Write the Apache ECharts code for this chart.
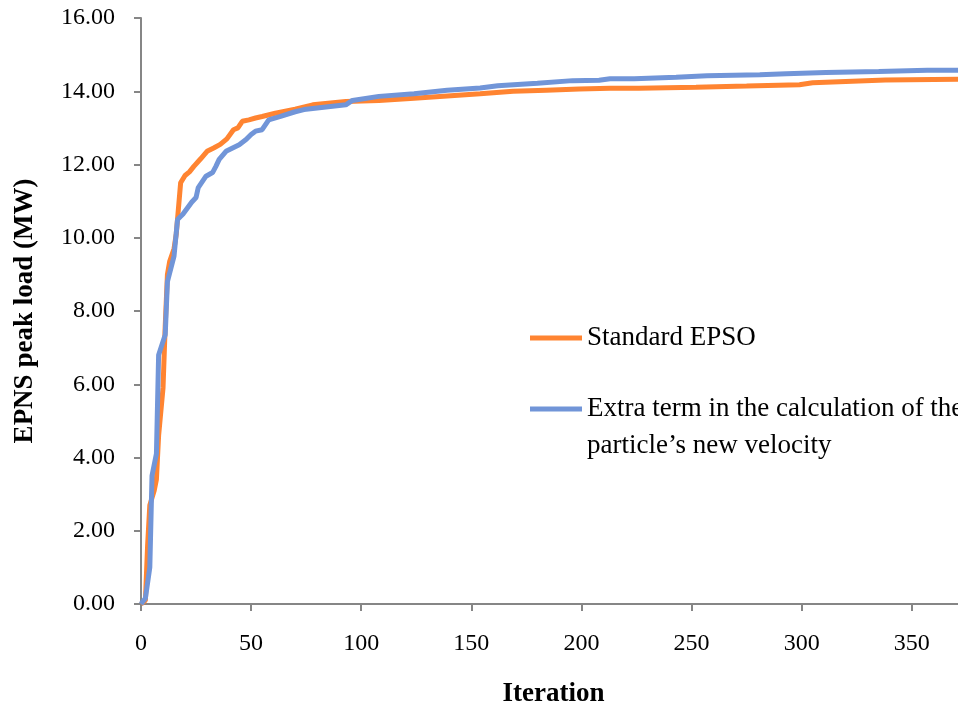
<!DOCTYPE html>
<html>
<head>
<meta charset="utf-8">
<title>EPNS peak load vs iteration</title>
<script src="https://cdn.jsdelivr.net/npm/echarts@6/dist/echarts.min.js"></script>
<style>
  html, body { margin: 0; padding: 0; background: #ffffff; }
  #chart { width: 958px; height: 713px; }
</style>
</head>
<body>
<div id="chart"></div>
<script>
// Best-so-far EPNS peak load (MW) per iteration for the two EPSO variants
const standardIter = [0, 2, 3, 4, 6, 7, 8, 10, 11, 12, 13, 15, 16, 17, 18, 20, 22, 24, 27, 30, 33, 36, 39, 42, 44, 46, 49, 52, 55, 61, 70, 78, 93, 108, 124, 139, 154, 169, 184, 199, 213, 226, 252, 275, 299, 305, 338, 371];
const standardLoad = [0, 0.1, 1.6, 2.7, 3.1, 3.4, 4.6, 5.9, 7.6, 9.0, 9.35, 9.7, 10.1, 10.8, 11.5, 11.7, 11.8, 11.95, 12.15, 12.36, 12.45, 12.55, 12.7, 12.95, 13.0, 13.18, 13.22, 13.27, 13.31, 13.4, 13.51, 13.63, 13.72, 13.75, 13.81, 13.87, 13.93, 14.0, 14.03, 14.06, 14.08, 14.08, 14.11, 14.14, 14.18, 14.23, 14.31, 14.33];

const extraIter = [0, 2, 4, 5, 7, 8, 11, 12, 15, 16.6, 19, 23, 25, 26, 29.5, 32.5, 34, 35.5, 38.6, 41.6, 44.6, 47.7, 50, 52, 55, 57, 58, 63, 70, 74, 93, 96, 108, 124, 139, 154, 162, 180, 196, 208, 213, 224, 243, 257, 281, 293, 311, 335, 357, 371];
const extraLoad = [0, 0.16, 1.0, 3.5, 4.1, 6.8, 7.35, 8.8, 9.5, 10.5, 10.64, 10.97, 11.1, 11.37, 11.68, 11.78, 11.95, 12.14, 12.36, 12.45, 12.54, 12.68, 12.82, 12.91, 12.95, 13.13, 13.22, 13.31, 13.44, 13.5, 13.63, 13.75, 13.86, 13.93, 14.03, 14.09, 14.15, 14.22, 14.29, 14.3, 14.34, 14.34, 14.38, 14.42, 14.45, 14.48, 14.51, 14.54, 14.57, 14.57];

const seriesNames = ['Standard EPSO', 'Extra term in the calculation of the'];
const secondLine = 'particle\u2019s new velocity';
const xTicks = [0, 50, 100, 150, 200, 250, 300, 350];

const serif = '"Liberation Serif", "Times New Roman", serif';
const pair = (xs, ys) => xs.map((x, i) => [x, ys[i]]);

const chart = echarts.init(document.getElementById('chart'), null, { renderer: 'canvas' });

const legendText = { fontFamily: serif, fontSize: 27, color: '#000', lineHeight: 30 };

chart.setOption({
  backgroundColor: '#ffffff',
  animation: false,
  grid: { left: 141, right: 0, top: 18, bottom: 107, containLabel: false },
  xAxis: {
    type: 'value',
    min: 0,
    max: 371,
    name: 'Iteration',
    nameLocation: 'middle',
    nameGap: 77,
    nameTextStyle: { fontFamily: serif, fontWeight: 'bold', fontSize: 27, color: '#000', padding: [0, 0, 0, 8] },
    axisLine: { lineStyle: { color: '#868686', width: 2 } },
    axisTick: { show: true, length: 7, customValues: xTicks, lineStyle: { color: '#868686', width: 2 } },
    axisLabel: { customValues: xTicks, margin: 28, fontFamily: serif, fontSize: 24, color: '#000' },
    splitLine: { show: false }
  },
  yAxis: {
    type: 'value',
    min: 0,
    max: 16,
    interval: 2,
    name: 'EPNS peak load (MW)',
    nameLocation: 'middle',
    nameGap: 102,
    nameTextStyle: { fontFamily: serif, fontWeight: 'bold', fontSize: 27, color: '#000' },
    axisLine: { show: true, lineStyle: { color: '#868686', width: 2 } },
    axisTick: { show: true, length: 7, lineStyle: { color: '#868686', width: 2 } },
    axisLabel: { margin: 26, fontFamily: serif, fontSize: 24, color: '#000', formatter: v => v.toFixed(2) },
    splitLine: { show: false }
  },
  legend: [
    {
      data: [seriesNames[0]],
      left: 530, top: 323, padding: 0,
      orient: 'vertical',
      icon: 'rect', itemWidth: 52, itemHeight: 5, itemGap: 0,
      textStyle: legendText
    },
    {
      data: [seriesNames[1]],
      left: 530, top: 394, padding: 0,
      orient: 'vertical',
      icon: 'rect', itemWidth: 52, itemHeight: 5, itemGap: 0,
      textStyle: legendText
    }
  ],
  graphic: [
    {
      type: 'text',
      left: 587, top: 432,
      style: { text: secondLine, font: '27px ' + serif, fill: '#000' }
    }
  ],
  series: [
    {
      name: seriesNames[0],
      type: 'line',
      data: pair(standardIter, standardLoad),
      showSymbol: false,
      symbol: 'none',
      lineStyle: { color: '#FF8431', width: 5 },
      itemStyle: { color: '#FF8431' },
      z: 2
    },
    {
      name: seriesNames[1],
      type: 'line',
      data: pair(extraIter, extraLoad),
      showSymbol: false,
      symbol: 'none',
      lineStyle: { color: '#7195D8', width: 5 },
      itemStyle: { color: '#7195D8' },
      z: 3
    }
  ]
});
</script>
</body>
</html>
